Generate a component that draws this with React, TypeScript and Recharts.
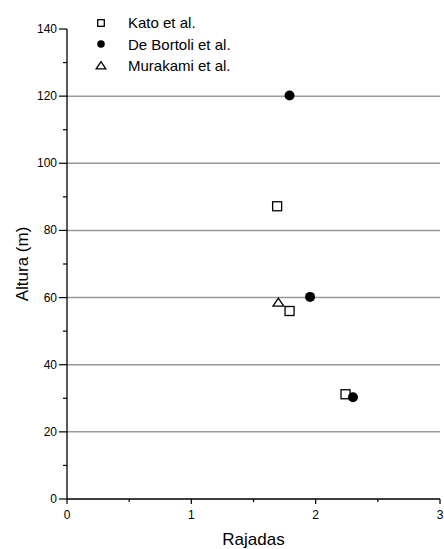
import React from "react";
import {
  ScatterChart,
  Scatter,
  XAxis,
  YAxis,
  ReferenceLine,
  Legend,
} from "recharts";

// values
const katoPoints = [
  { x: 1.69, y: 87.2 },
  { x: 1.79, y: 56.0 },
  { x: 2.24, y: 31.2 },
];
const deBortoliPoints = [
  { x: 1.79, y: 120.2 },
  { x: 1.955, y: 60.2 },
  { x: 2.3, y: 30.3 },
];
const murakamiPoints = [{ x: 1.7, y: 58.4 }];

const xTicks = [0, 0.5, 1, 1.5, 2, 2.5, 3];
const yTicks = [0, 10, 20, 30, 40, 50, 60, 70, 80, 90, 100, 110, 120, 130, 140];
const gridValues = [20, 40, 60, 80, 100, 120];

const seriesNames = ["Kato et al.", "De Bortoli et al.", "Murakami et al."];
const seriesShapes = ["square", "circle", "triangle"];

const FONT = "'Liberation Sans', Arial, sans-serif";

function Marker({ kind, cx, cy, r }: { kind: string; cx: number; cy: number; r: number }) {
  if (kind === "square") {
    return (
      <rect x={cx - r} y={cy - r} width={r * 2} height={r * 2} fill="#fff" stroke="#000" strokeWidth={1.3} />
    );
  }
  if (kind === "circle") {
    return <circle cx={cx} cy={cy} r={r + 0.5} fill="#000" />;
  }
  const h = r * 1.8;
  return (
    <polygon
      points={`${cx},${cy - h * 0.6} ${cx - r * 1.2},${cy + h * 0.4} ${cx + r * 1.2},${cy + h * 0.4}`}
      fill="#fff"
      stroke="#000"
      strokeWidth={1.3}
    />
  );
}

const shapeFor = (kind: string) => (props: any) => (
  <Marker kind={kind} cx={props.cx} cy={props.cy} r={4.5} />
);

function XTick({ x, y, payload }: any) {
  const major = Number.isInteger(payload.value);
  return (
    <g>
      <line x1={x} x2={x} y1={y} y2={y + (major ? 5 : 3)} stroke="#000" strokeWidth={1.2} />
      {major && (
        <text x={x} y={y + 20} textAnchor="middle" fontSize={12} fill="#000" fontFamily={FONT}>
          {payload.value}
        </text>
      )}
    </g>
  );
}

function YTick({ x, y, payload }: any) {
  const major = payload.value % 20 === 0;
  return (
    <g>
      <line x1={x - (major ? 8 : 4)} x2={x} y1={y} y2={y} stroke="#000" strokeWidth={1.2} />
      {major && (
        <text x={x - 10} y={y + 4} textAnchor="end" fontSize={12} fill="#000" fontFamily={FONT}>
          {payload.value}
        </text>
      )}
    </g>
  );
}

function YTitle({ viewBox }: any) {
  const cx = viewBox.x + 22;
  const cy = viewBox.y + viewBox.height / 2;
  return (
    <text
      x={cx}
      y={cy}
      transform={`rotate(-90, ${cx}, ${cy})`}
      textAnchor="middle"
      dominantBaseline="central"
      fontSize={17}
      fontFamily={FONT}
      fill="#000"
    >
      Altura (m)
    </text>
  );
}

function LegendBox() {
  return (
    <div style={{ fontFamily: FONT, fontSize: 15, color: "#000" }}>
      {seriesNames.map((name, i) => (
        <div key={name} style={{ display: "flex", alignItems: "center", height: 21.5 }}>
          <svg width={18} height={16} style={{ marginRight: 18 }}>
            <Marker kind={seriesShapes[i]} cx={9} cy={8} r={i === 2 ? 4 : 3.3} />
          </svg>
          <span>{name}</span>
        </div>
      ))}
    </div>
  );
}

export default function App() {
  return (
    <div style={{ position: "absolute", left: 0, top: 0, background: "#fff" }}>
      <ScatterChart
        width={444}
        height={549}
        margin={{ top: 29, right: 4, bottom: 0, left: 0 }}
        style={{ fontFamily: FONT }}
      >
        {gridValues.map((v) => (
          <ReferenceLine key={v} y={v} stroke="#999" strokeWidth={1.5} />
        ))}
        <XAxis
          type="number"
          dataKey="x"
          domain={[0, 3]}
          ticks={xTicks}
          interval={0}
          height={50}
          tickSize={0}
          tickMargin={0}
          tickLine={false}
          tick={<XTick />}
          axisLine={{ stroke: "#000", strokeWidth: 1.3 }}
          label={{ value: "Rajadas", position: "insideBottom", offset: 4, fontSize: 17, fill: "#000" }}
        />
        <YAxis
          type="number"
          dataKey="y"
          domain={[0, 140]}
          ticks={yTicks}
          interval={0}
          width={67}
          tickSize={0}
          tickMargin={0}
          tickLine={false}
          tick={<YTick />}
          axisLine={{ stroke: "#000", strokeWidth: 1.3 }}
          label={<YTitle />}
        />
        <Legend
          layout="vertical"
          verticalAlign="middle"
          align="center"
          content={<LegendBox />}
          wrapperStyle={{ top: 12, left: 92, width: 220 }}
        />
        <Scatter name={seriesNames[0]} data={katoPoints} shape={shapeFor("square")} isAnimationActive={false} />
        <Scatter name={seriesNames[1]} data={deBortoliPoints} shape={shapeFor("circle")} isAnimationActive={false} />
        <Scatter name={seriesNames[2]} data={murakamiPoints} shape={shapeFor("triangle")} isAnimationActive={false} />
      </ScatterChart>
    </div>
  );
}
